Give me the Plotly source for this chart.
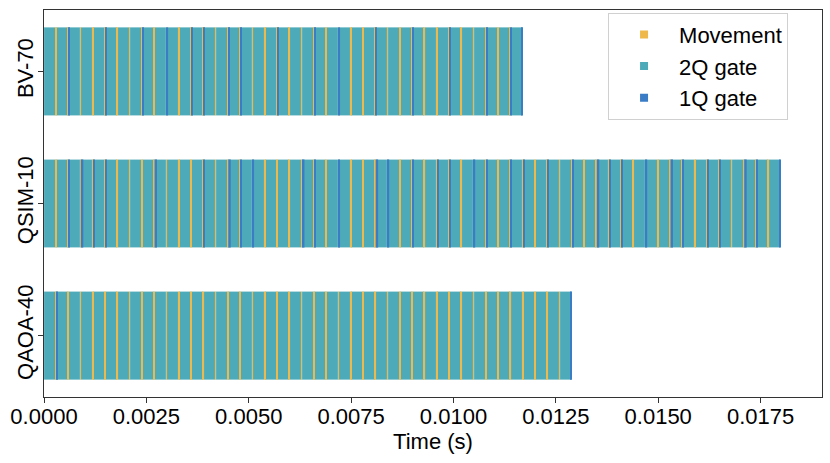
import plotly.graph_objects as go

# ---- data ----
circuits = ["BV-70", "QSIM-10", "QAOA-40"]
# number of movement steps in each circuit's schedule
n_moves = [38, 59, 42]
# movement-step indices after which a single-qubit gate layer runs
bv_1q = [1, 4, 7, 9, 11, 12, 14, 15, 18, 21, 23, 26, 29, 32, 35, 37]
qsim_1q = [1, 3, 4, 12, 15, 16, 21, 23, 27, 29, 31, 32, 34, 35, 37, 38,
           40, 42, 45, 46, 48, 51, 53, 54, 57]
qaoa_1q = [0]
# indices with a longer single-qubit layer
bv_1q_long = []
qsim_1q_long = [2, 8, 14, 20, 26, 44, 50, 56]
qaoa_1q_long = []
# single-qubit layer at the very end of the schedule
final_1q = [True, True, True]

# durations (s)
dur_2q = 0.00028
dur_move = 0.00002
dur_1q = 0.00003
dur_1q_long = 0.00006

one_q = [bv_1q, qsim_1q, qaoa_1q]
one_q_long = [bv_1q_long, qsim_1q_long, qaoa_1q_long]

colors = {"Movement": "#EFB84A", "2Q gate": "#4DAAB8", "1Q gate": "#3A7CC6"}

segs = {"Movement": ([], [], []), "2Q gate": ([], [], []), "1Q gate": ([], [], [])}


def add(kind, yi, start, d):
    b, x, y = segs[kind]
    b.append(start)
    x.append(d)
    y.append(yi)


for yi, name in enumerate(circuits):
    clock = 0.0
    add("2Q gate", yi, clock, dur_2q)
    clock += dur_2q
    for i in range(n_moves[yi]):
        add("Movement", yi, clock, dur_move)
        clock += dur_move
        if i in one_q[yi]:
            add("1Q gate", yi, clock, dur_1q)
        if i in one_q_long[yi]:
            add("1Q gate", yi, clock, dur_1q_long)
        add("2Q gate", yi, clock, dur_2q)
        clock += dur_2q
    if final_1q[yi]:
        add("1Q gate", yi, clock - dur_1q, dur_1q)

fig = go.Figure()
for kind, lw in [("2Q gate", 0.5), ("Movement", 0), ("1Q gate", 0)]:
    b, x, y = segs[kind]
    fig.add_trace(go.Bar(
        orientation="h", base=b, x=x, y=y, width=0.667,
        marker=dict(color=colors[kind],
                    line=dict(color="rgba(255,255,255,0.4)", width=lw)),
        showlegend=False, hoverinfo="skip",
    ))

for rank, kind in enumerate(["Movement", "2Q gate", "1Q gate"]):
    fig.add_trace(go.Scatter(
        x=[None], y=[None], mode="markers", name=kind, legendrank=rank + 1,
        marker=dict(symbol="square", size=8, color=colors[kind]),
    ))

font = "Liberation Sans, Arial, sans-serif"
fig.update_layout(
    width=830, height=463,
    margin=dict(l=44, r=8, t=10, b=66),
    paper_bgcolor="white", plot_bgcolor="white",
    barmode="overlay",
    font=dict(family=font, size=21, color="black"),
    legend=dict(x=0.725, y=0.993, xanchor="left", yanchor="top",
                bordercolor="#d0d0d0", borderwidth=1, bgcolor="white",
                font=dict(size=22), itemwidth=60, tracegroupgap=0),
    xaxis=dict(range=[0, 0.019], tickvals=[0, 0.0025, 0.005, 0.0075, 0.01, 0.0125, 0.015, 0.0175],
               ticktext=["0.0000", "0.0025", "0.0050", "0.0075", "0.0100", "0.0125", "0.0150", "0.0175"],
               showline=True, mirror=True, linecolor="#333333", linewidth=1.3,
               ticks="outside", ticklen=5, tickcolor="#333333", showgrid=False, zeroline=False,
               automargin=False, tickfont=dict(size=22), ticklabelstandoff=-6,
               title=dict(text="Time (s)", standoff=0, font=dict(size=22))),
    yaxis=dict(range=[2.465, -0.465], tickvals=[0, 1, 2], ticktext=circuits, tickangle=-90,
               showline=True, mirror=True, linecolor="#333333", linewidth=1.3,
               ticks="outside", ticklen=5, tickcolor="#333333", showgrid=False, zeroline=False,
               automargin=False, tickfont=dict(size=22), ticklabelstandoff=-4),
)

fig.write_html(
    "out.html",
    config={"responsive": False, "displayModeBar": False},
    post_script="document.body.style.margin='0';document.body.style.overflow='hidden';"
                "Plotly.relayout('{plot_id}', {width: 830, height: 463});",
)
